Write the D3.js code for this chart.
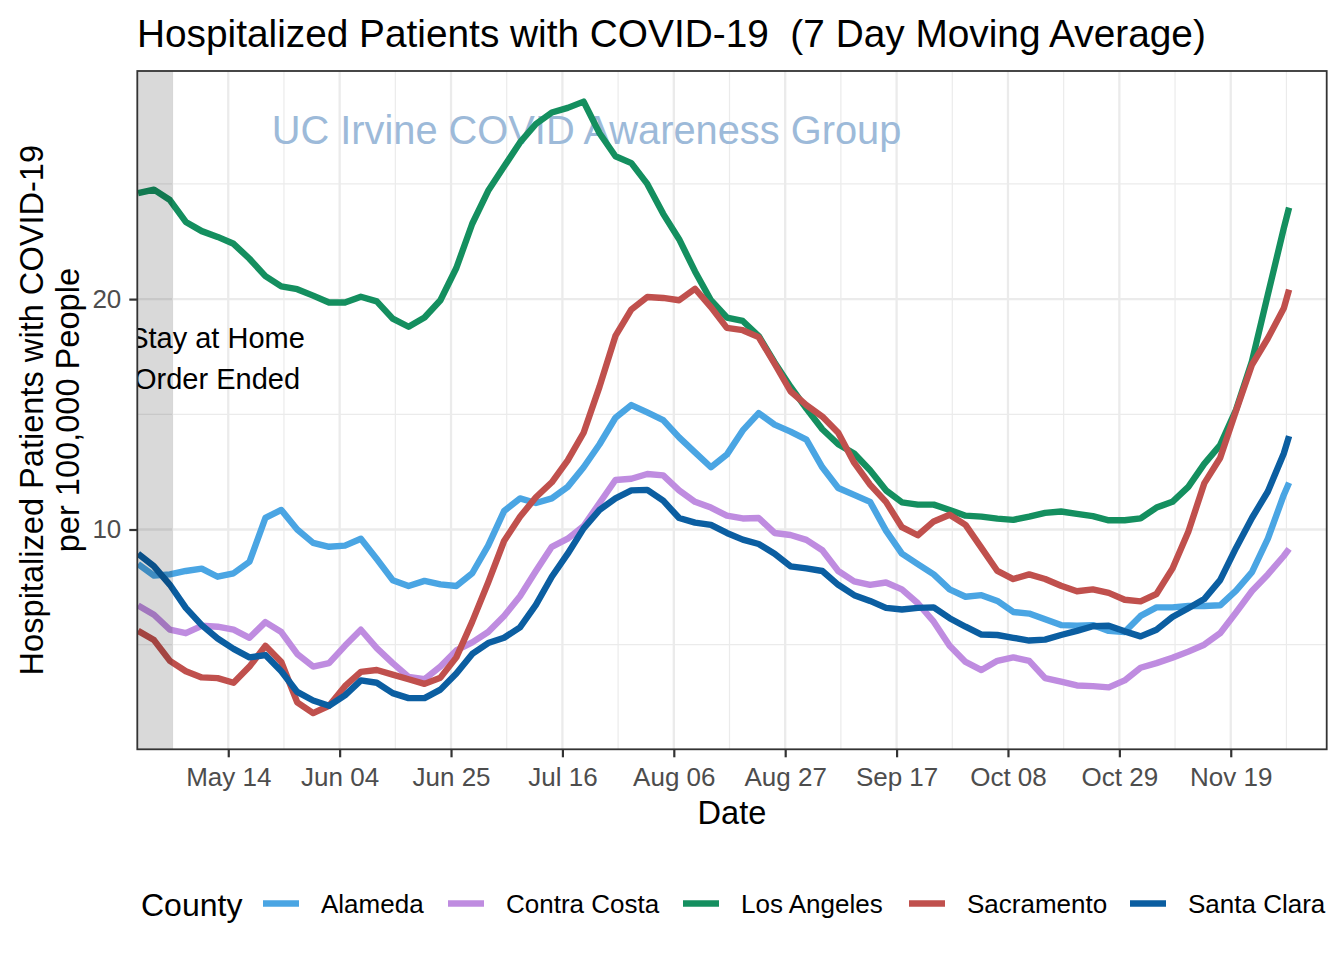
<!DOCTYPE html>
<html><head><meta charset="utf-8">
<script src="https://cdn.jsdelivr.net/npm/d3@7"></script>
<style>body{margin:0;background:#fff;} svg{display:block;} text{white-space:pre;}</style>
</head><body>
<svg id="chart" width="1344" height="960"></svg>
<script>
const dates = ["2020-04-27","2020-04-30","2020-05-03","2020-05-06","2020-05-09","2020-05-12","2020-05-15","2020-05-18","2020-05-21","2020-05-24",
"2020-05-27","2020-05-30","2020-06-02","2020-06-05","2020-06-08","2020-06-11","2020-06-14","2020-06-17","2020-06-20","2020-06-23",
"2020-06-26","2020-06-29","2020-07-02","2020-07-05","2020-07-08","2020-07-11","2020-07-14","2020-07-17","2020-07-20","2020-07-23",
"2020-07-26","2020-07-29","2020-08-01","2020-08-04","2020-08-07","2020-08-10","2020-08-13","2020-08-16","2020-08-19","2020-08-22",
"2020-08-25","2020-08-28","2020-08-31","2020-09-03","2020-09-06","2020-09-09","2020-09-12","2020-09-15","2020-09-18","2020-09-21",
"2020-09-24","2020-09-27","2020-09-30","2020-10-03","2020-10-06","2020-10-09","2020-10-12","2020-10-15","2020-10-18","2020-10-21",
"2020-10-24","2020-10-27","2020-10-30","2020-11-02","2020-11-05","2020-11-08","2020-11-11","2020-11-14","2020-11-17","2020-11-20",
"2020-11-23","2020-11-26","2020-11-29","2020-11-30"];

const alameda = [8.5,8.0,8.05,8.2,8.3,7.95,8.1,8.6,10.5,10.85,
10.0,9.42,9.25,9.3,9.6,8.72,7.8,7.55,7.77,7.62,
7.55,8.1,9.3,10.8,11.35,11.15,11.35,11.85,12.7,13.7,
14.85,15.4,15.08,14.75,14.0,13.35,12.7,13.25,14.3,15.05,
14.55,14.25,13.9,12.7,11.8,11.5,11.2,9.95,8.95,8.5,
8.05,7.4,7.08,7.15,6.9,6.42,6.35,6.1,5.85,5.83,
5.85,5.6,5.55,6.25,6.62,6.62,6.68,6.68,6.71,7.35,
8.15,9.6,11.5,12.03];

const contraCosta = [6.7,6.3,5.65,5.5,5.82,5.78,5.65,5.3,5.98,5.55,
4.6,4.05,4.2,4.95,5.65,4.85,4.2,3.6,3.5,4.05,
4.75,5.1,5.55,6.25,7.1,8.2,9.25,9.6,10.15,11.15,
12.15,12.2,12.41,12.35,11.7,11.2,10.95,10.6,10.48,10.5,
9.85,9.76,9.55,9.1,8.2,7.75,7.6,7.7,7.4,6.8,
6.0,4.95,4.25,3.9,4.3,4.45,4.3,3.55,3.4,3.23,
3.2,3.15,3.45,4.0,4.2,4.43,4.7,5.0,5.5,6.4,
7.33,8.05,8.85,9.16];

const losAngeles = [24.6,24.75,24.3,23.35,22.95,22.7,22.4,21.75,21.0,20.55,
20.43,20.15,19.85,19.85,20.1,19.9,19.15,18.8,19.2,19.95,
21.35,23.27,24.7,25.75,26.8,27.6,28.1,28.3,28.57,27.2,
26.2,25.9,25.0,23.7,22.6,21.2,19.95,19.2,19.05,18.4,
17.25,16.2,15.25,14.35,13.7,13.3,12.57,11.7,11.18,11.08,
11.08,10.85,10.6,10.56,10.47,10.42,10.56,10.72,10.78,10.68,
10.58,10.4,10.4,10.48,10.95,11.2,11.85,12.85,13.66,15.2,
17.3,20.2,23.07,23.97];

const sacramento = [5.6,5.2,4.3,3.85,3.58,3.55,3.35,4.05,4.95,4.25,
2.5,2.03,2.35,3.2,3.82,3.9,3.7,3.5,3.3,3.57,
4.45,6.0,7.7,9.5,10.55,11.4,12.05,13.0,14.2,16.2,
18.4,19.55,20.09,20.05,19.95,20.45,19.65,18.75,18.65,18.35,
17.2,16.0,15.4,14.9,14.2,12.9,11.95,11.2,10.1,9.75,
10.35,10.64,10.2,9.2,8.2,7.85,8.05,7.85,7.56,7.32,
7.4,7.25,6.95,6.88,7.2,8.3,9.9,12.0,13.1,15.15,
17.15,18.3,19.6,20.41];

const santaClara = [8.95,8.4,7.6,6.6,5.85,5.27,4.82,4.45,4.55,3.85,
2.95,2.58,2.35,2.8,3.45,3.35,2.9,2.68,2.68,3.05,
3.75,4.6,5.07,5.3,5.75,6.73,7.95,8.95,10.05,10.85,
11.35,11.7,11.72,11.25,10.5,10.3,10.2,9.85,9.56,9.37,
8.95,8.4,8.31,8.2,7.6,7.15,6.9,6.6,6.53,6.6,
6.62,6.15,5.78,5.44,5.42,5.3,5.18,5.22,5.42,5.6,
5.8,5.82,5.58,5.36,5.65,6.2,6.58,6.98,7.8,9.2,
10.5,11.65,13.3,14.05];

const seriesNames = ["Alameda","Contra Costa","Los Angeles","Sacramento","Santa Clara"];
const seriesValues = [alameda, contraCosta, losAngeles, sacramento, santaClara];
const seriesColors = ["#4AA5E3","#BF8CE0","#148F5F","#C0504D","#0B5EA1"];

const xTickDates = ["2020-05-14","2020-06-04","2020-06-25","2020-07-16","2020-08-06","2020-08-27","2020-09-17","2020-10-08","2020-10-29","2020-11-19"];
const xMinorDates = ["2020-05-03T12:00","2020-05-24T12:00","2020-06-14T12:00","2020-07-05T12:00","2020-07-26T12:00","2020-08-16T12:00","2020-09-06T12:00","2020-09-27T12:00","2020-10-18T12:00","2020-11-08T12:00","2020-11-29T12:00"];
const yMajorTicks = [10, 20];
const yMinorTicks = [5, 15, 25];
const xDomain = ["2020-04-26T20:28","2020-12-07T02:10"];
const yDomain = [0.46, 29.9];
const stayHomeEnd = "2020-05-03T12:00";

const titleText = "Hospitalized Patients with COVID-19  (7 Day Moving Average)";
const watermark = "UC Irvine COVID Awareness Group";
const annotationLines = ["Stay at Home", "Order Ended"];
const yTitleLines = ["Hospitalized Patients with COVID-19", "per 100,000 People"];
const xTitle = "Date";
const legendTitle = "County";

// ---- drawing ----
const FONT = "'Liberation Sans', Arial, Helvetica, sans-serif";
const parseD = d3.utcParse("%Y-%m-%d");
const parseDT = d3.utcParse("%Y-%m-%dT%H:%M");
const P = {left: 137.3, right: 1326.7, top: 71, bottom: 749.3};
const LW = 6.4;

const svg = d3.select("#chart").style("font-family", FONT);
svg.append("rect").attr("width",1344).attr("height",960).attr("fill","#fff");

const x = d3.scaleUtc().domain(xDomain.map(parseDT)).range([P.left, P.right]);
const y = d3.scaleLinear().domain(yDomain).range([P.bottom, P.top]);

svg.append("defs").append("clipPath").attr("id","panelClip")
  .append("rect").attr("x",P.left).attr("y",P.top).attr("width",P.right-P.left).attr("height",P.bottom-P.top);

const panel = svg.append("g");
// minor grid
panel.selectAll(".gxm").data(xMinorDates.map(parseDT)).enter().append("line")
  .attr("x1",d=>x(d)).attr("x2",d=>x(d)).attr("y1",P.top).attr("y2",P.bottom)
  .attr("stroke","#EBEBEB").attr("stroke-width",1.2);
panel.selectAll(".gym").data(yMinorTicks).enter().append("line")
  .attr("y1",d=>y(d)).attr("y2",d=>y(d)).attr("x1",P.left).attr("x2",P.right)
  .attr("stroke","#EBEBEB").attr("stroke-width",1.2);
// major grid
panel.selectAll(".gx").data(xTickDates.map(parseD)).enter().append("line")
  .attr("x1",d=>x(d)).attr("x2",d=>x(d)).attr("y1",P.top).attr("y2",P.bottom)
  .attr("stroke","#EBEBEB").attr("stroke-width",2.3);
panel.selectAll(".gy").data(yMajorTicks).enter().append("line")
  .attr("y1",d=>y(d)).attr("y2",d=>y(d)).attr("x1",P.left).attr("x2",P.right)
  .attr("stroke","#EBEBEB").attr("stroke-width",2.3);

// watermark
panel.append("text").attr("x",586.5).attr("y",143.5).attr("text-anchor","middle")
  .attr("font-size",39.8).attr("fill","#9DBAD9").text(watermark);

// lines
const line = d3.line().x((d,i)=>x(parseD(dates[i]))).y(d=>y(d)).curve(d3.curveLinear);
const lg = panel.append("g").attr("clip-path","url(#panelClip)");
seriesValues.forEach((vals,k)=>{
  lg.append("path").datum(vals).attr("d",line).attr("fill","none")
    .attr("stroke",seriesColors[k]).attr("stroke-width",LW)
    .attr("stroke-linejoin","round").attr("stroke-linecap","butt");
});

// stay-at-home shaded rect (drawn on top with alpha)
lg.append("rect").attr("x",P.left).attr("y",P.top)
  .attr("width",x(parseDT(stayHomeEnd))-P.left).attr("height",P.bottom-P.top)
  .attr("fill","#000").attr("fill-opacity",0.15);

// annotation
const ann = lg.append("text").attr("text-anchor","middle").attr("font-size",29).attr("fill","#000");
annotationLines.forEach((t,i)=>{
  ann.append("tspan").attr("x",217).attr("y",347.5 + i*41).text(t);
});

// panel border
svg.append("rect").attr("x",P.left).attr("y",P.top).attr("width",P.right-P.left).attr("height",P.bottom-P.top)
  .attr("fill","none").attr("stroke","#333333").attr("stroke-width",1.8);

// axes
const xAxis = d3.axisBottom(x).tickValues(xTickDates.map(parseD)).tickFormat(d3.utcFormat("%b %d")).tickSize(8).tickPadding(10);
const gx = svg.append("g").attr("transform",`translate(0,${P.bottom})`).call(xAxis);
gx.select(".domain").remove();
gx.selectAll(".tick line").attr("stroke","#333333").attr("stroke-width",2.2);
gx.selectAll(".tick text").attr("font-size",26).attr("fill","#4D4D4D").attr("font-family",FONT);

const yAxis = d3.axisLeft(y).tickValues(yMajorTicks).tickSize(8).tickPadding(8);
const gy = svg.append("g").attr("transform",`translate(${P.left},0)`).call(yAxis);
gy.select(".domain").remove();
gy.selectAll(".tick line").attr("stroke","#333333").attr("stroke-width",2.2);
gy.selectAll(".tick text").attr("font-size",26).attr("fill","#4D4D4D").attr("font-family",FONT);

// titles
svg.append("text").attr("x",137).attr("y",47).attr("font-size",38.8).attr("fill","#000")
  .attr("xml:space","preserve").text(titleText);
svg.append("text").attr("x",(P.left+P.right)/2).attr("y",823.5).attr("text-anchor","middle")
  .attr("font-size",32.6).attr("fill","#000").text(xTitle);
const yt = svg.append("text").attr("transform",`translate(0,${(P.top+P.bottom)/2}) rotate(-90)`)
  .attr("text-anchor","middle").attr("font-size",32.6).attr("fill","#000");
yTitleLines.forEach((t,i)=>{
  yt.append("tspan").attr("x",0).attr("y",43 + i*36).text(t);
});

// legend (layout positions of keys)
const leg = svg.append("g");
const legY = 903.5;
const legendKeyX = [263, 448, 683, 909, 1130];
leg.append("text").attr("x",141).attr("y",916).attr("font-size",32).attr("fill","#000").text(legendTitle);
seriesNames.forEach((name,k)=>{
  const kx = legendKeyX[k];
  leg.append("line").attr("x1",kx).attr("x2",kx+36).attr("y1",legY).attr("y2",legY)
    .attr("stroke",seriesColors[k]).attr("stroke-width",LW);
  leg.append("text").attr("x",kx+58).attr("y",913).attr("font-size",26).attr("fill","#000").text(name);
});
</script>
</body></html>
